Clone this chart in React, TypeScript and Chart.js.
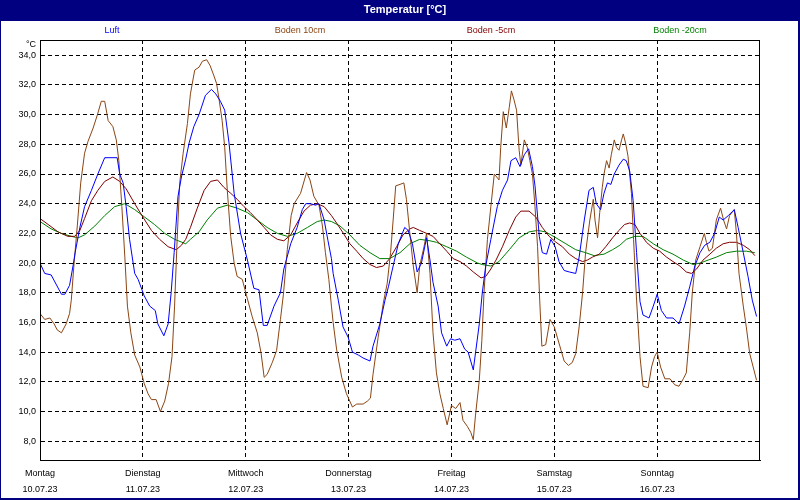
import React, { useEffect, useRef } from "react";
import { Chart, registerables } from "chart.js";

Chart.register(...registerables);

const chartTitle = "Temperatur [°C]";
const unitLabel = "°C";
const seriesNames = ["Luft", "Boden 10cm", "Boden -5cm", "Boden -20cm"];
const seriesColors = ["#0000ff", "#8b4513", "#800000", "#008000"];
const dayNames = ["Montag", "Dienstag", "Mittwoch", "Donnerstag", "Freitag", "Samstag", "Sonntag"];
const dayDates = ["10.07.23", "11.07.23", "12.07.23", "13.07.23", "14.07.23", "15.07.23", "16.07.23"];
const dayTickHours = [0, 24, 48, 72, 96, 120, 144];
const yTickValues = [8, 10, 12, 14, 16, 18, 20, 22, 24, 26, 28, 30, 32, 34];

// Luft (hours since Monday 00:00, °C)
const luftHours = [0, 1.1, 2.6, 5.0, 5.8, 6.9, 7.7, 8.2, 9.3, 10.4, 12.0, 13.5, 15.1, 18.0, 18.6, 19.4, 20.1, 20.9, 22.1, 22.9, 24.3, 25.6, 26.9, 27.5, 28.9, 29.9, 30.6, 31.3, 32.2, 33.0, 34.0, 34.8, 35.9, 37.1, 38.6, 40.0, 41.0, 42.1, 43.1, 44.1, 45.3, 46.8, 48.4, 49.9, 51.1, 52.1, 53.0, 54.6, 56.1, 56.9, 58.5, 60.0, 61.2, 62.0, 63.1, 64.3, 65.1, 66.3, 67.2, 68.0, 68.4, 69.6, 70.7, 71.9, 72.9, 74.3, 75.4, 77.0, 77.7, 79.3, 80.5, 81.3, 82.4, 83.6, 85.1, 85.9, 86.9, 88.0, 89.0, 90.2, 91.0, 91.7, 92.9, 93.7, 94.9, 95.8, 96.8, 98.0, 99.1, 99.9, 101.1, 102.5, 103.2, 104.0, 105.2, 106.7, 107.9, 109.1, 109.9, 111.0, 112.0, 113.0, 114.0, 114.9, 115.5, 116.5, 117.2, 118.2, 119.2, 120.2, 121.1, 122.3, 123.5, 125.0, 125.8, 127.0, 128.1, 129.1, 129.8, 130.8, 131.6, 132.4, 133.2, 134.0, 135.1, 136.1, 136.8, 137.6, 138.4, 139.2, 140.0, 140.7, 142.1, 143.1, 144.0, 145.0, 146.2, 147.7, 149.1, 150.4, 151.6, 152.8, 154.0, 155.1, 156.3, 157.4, 158.5, 159.4, 160.6, 162.0, 162.9, 164.1, 165.2, 166.2, 167.2];
const luftValues = [20.0, 19.3, 19.2, 17.9, 17.9, 18.5, 19.8, 20.7, 22.4, 23.8, 24.9, 26.0, 27.1, 27.1, 26.0, 25.4, 23.8, 21.6, 19.3, 18.9, 17.8, 17.1, 16.8, 15.9, 15.1, 15.9, 18.0, 20.7, 24.5, 25.8, 27.0, 28.1, 29.2, 30.0, 31.3, 31.7, 31.4, 30.9, 30.3, 28.1, 24.7, 22.0, 20.2, 18.3, 18.2, 15.8, 15.8, 17.1, 18.0, 19.6, 21.3, 22.4, 23.6, 24.0, 24.0, 23.9, 24.0, 22.9, 21.5, 20.3, 19.3, 17.5, 15.7, 15.0, 14.0, 13.8, 13.6, 13.4, 14.4, 15.9, 17.5, 18.4, 19.8, 21.3, 22.4, 22.2, 21.3, 19.4, 20.0, 21.7, 20.2, 18.7, 17.1, 15.3, 14.4, 14.9, 14.8, 14.9, 14.2, 14.0, 12.8, 15.9, 18.0, 19.8, 21.6, 23.8, 24.9, 25.6, 26.9, 27.1, 26.5, 27.3, 27.7, 26.5, 25.2, 21.8, 20.7, 20.6, 21.6, 21.1, 20.1, 19.5, 19.4, 19.3, 20.4, 22.9, 24.9, 25.1, 24.0, 23.6, 24.7, 25.4, 25.3, 26.0, 26.6, 27.0, 26.9, 26.2, 24.2, 20.7, 17.4, 16.5, 16.3, 17.1, 17.9, 16.8, 16.3, 16.3, 15.9, 17.1, 18.4, 19.8, 20.7, 21.2, 21.4, 22.0, 23.1, 22.9, 23.2, 23.6, 22.4, 20.7, 19.1, 17.5, 16.4];

// Boden 10cm
const boden10Hours = [0, 1.1, 2.3, 3.3, 4.0, 5.0, 6.1, 6.9, 7.3, 7.9, 8.7, 9.5, 10.4, 11.2, 12.4, 13.4, 14.3, 15.1, 15.9, 17.0, 17.8, 18.4, 19.1, 19.8, 20.4, 21.2, 22.1, 23.3, 24.3, 25.2, 26.0, 27.1, 28.1, 29.1, 30.0, 30.8, 31.4, 32.0, 32.6, 33.4, 34.4, 35.1, 36.1, 37.1, 37.9, 38.9, 39.7, 40.6, 41.2, 41.8, 42.5, 43.1, 43.7, 44.5, 45.3, 46.0, 47.2, 48.2, 49.5, 50.7, 51.6, 52.3, 53.0, 54.2, 55.2, 56.1, 56.8, 57.7, 58.6, 59.3, 60.8, 61.7, 62.2, 63.0, 63.9, 65.1, 65.9, 66.6, 67.4, 68.0, 68.4, 69.2, 70.4, 71.5, 72.9, 73.9, 75.4, 76.4, 77.1, 77.7, 78.9, 80.1, 81.0, 81.8, 82.4, 83.0, 84.0, 84.9, 85.5, 86.3, 87.1, 88.0, 88.6, 89.6, 90.2, 91.0, 91.7, 92.5, 93.3, 94.1, 95.0, 96.0, 97.0, 98.0, 98.7, 99.7, 100.5, 101.1, 101.6, 102.5, 103.1, 103.6, 104.4, 105.2, 106.0, 107.1, 107.5, 108.1, 108.8, 109.5, 110.0, 110.6, 111.2, 111.8, 112.2, 113.0, 113.7, 114.3, 114.9, 115.5, 116.1, 116.6, 117.1, 118.0, 119.0, 120.0, 120.7, 121.5, 122.3, 123.3, 124.2, 125.0, 125.8, 126.6, 127.3, 128.3, 129.1, 129.5, 130.1, 130.6, 131.2, 131.6, 132.2, 132.8, 133.3, 134.0, 134.5, 135.1, 135.7, 136.1, 136.7, 137.2, 138.0, 138.5, 139.2, 140.0, 140.7, 141.9, 142.7, 143.4, 144.0, 144.8, 145.8, 147.0, 148.1, 149.1, 150.1, 150.8, 151.6, 152.2, 153.0, 154.0, 155.0, 155.5, 156.1, 156.9, 157.8, 158.8, 159.5, 160.2, 160.9, 162.0, 162.5, 163.1, 164.1, 164.8, 165.6, 166.4, 167.2];
const boden10Values = [16.6, 16.2, 16.3, 15.9, 15.5, 15.3, 15.9, 16.6, 17.5, 19.8, 22.5, 25.4, 27.4, 28.2, 29.1, 30.0, 30.9, 30.9, 29.6, 29.2, 28.3, 26.9, 23.8, 20.4, 17.1, 15.3, 13.8, 13.0, 11.9, 11.2, 10.8, 10.8, 10.0, 10.7, 11.9, 13.7, 17.1, 21.6, 25.4, 27.4, 29.4, 31.4, 33.0, 33.2, 33.6, 33.7, 33.3, 32.6, 32.1, 31.0, 29.6, 27.8, 24.9, 21.8, 20.0, 19.1, 18.9, 17.8, 16.4, 15.3, 13.9, 12.3, 12.5, 13.3, 14.1, 16.2, 17.9, 20.9, 23.2, 24.0, 24.7, 25.6, 26.1, 25.6, 24.5, 23.9, 22.5, 20.7, 18.9, 17.1, 16.0, 14.2, 12.3, 11.2, 10.3, 10.5, 10.5, 10.7, 10.9, 12.5, 15.0, 17.3, 18.6, 20.7, 22.9, 25.2, 25.3, 25.4, 24.3, 22.0, 19.8, 18.0, 19.8, 21.1, 22.0, 19.3, 15.3, 12.6, 11.2, 10.2, 9.1, 10.4, 10.2, 10.6, 9.4, 9.0, 8.6, 8.1, 9.7, 12.1, 14.8, 18.0, 21.6, 23.8, 26.0, 25.6, 27.8, 30.2, 29.1, 30.5, 31.6, 31.0, 30.3, 27.6, 26.6, 28.3, 27.8, 26.9, 26.0, 23.8, 21.1, 17.5, 14.4, 14.5, 16.2, 15.7, 15.0, 14.2, 13.4, 13.1, 13.3, 13.9, 15.7, 18.0, 20.7, 22.9, 24.3, 22.9, 21.7, 23.4, 25.1, 26.0, 26.9, 26.4, 27.3, 28.3, 27.8, 27.6, 28.3, 28.7, 28.0, 27.2, 24.7, 21.6, 17.5, 13.7, 11.7, 11.6, 13.0, 13.7, 14.0, 13.0, 12.2, 12.2, 11.8, 11.7, 12.2, 12.6, 15.3, 18.0, 20.2, 21.1, 22.0, 21.4, 20.8, 21.0, 22.9, 23.7, 22.9, 22.3, 23.2, 23.6, 22.0, 19.3, 17.1, 15.7, 13.9, 13.0, 12.1];

// Boden -5cm
const boden5Hours = [0, 1.9, 4.2, 6.5, 8.1, 9.3, 10.4, 12.0, 13.5, 15.1, 17.0, 18.6, 20.1, 22.1, 24.0, 26.0, 27.9, 29.9, 31.8, 33.0, 34.0, 35.1, 36.7, 38.3, 39.8, 41.4, 42.9, 44.5, 46.0, 47.6, 49.1, 50.7, 52.3, 53.8, 55.4, 56.9, 58.5, 60.0, 61.6, 63.1, 64.7, 66.3, 68.0, 69.2, 70.8, 72.3, 73.9, 75.4, 77.0, 78.5, 80.1, 81.6, 83.2, 84.7, 86.3, 87.1, 88.6, 90.2, 91.7, 93.3, 94.9, 96.4, 98.0, 99.5, 101.1, 102.9, 104.0, 105.2, 106.4, 107.9, 109.5, 111.0, 112.2, 114.1, 115.7, 117.2, 118.8, 120.4, 121.9, 123.5, 125.0, 126.6, 127.7, 128.9, 130.5, 132.0, 133.6, 135.1, 136.4, 137.6, 138.8, 140.0, 141.5, 143.1, 144.6, 146.2, 147.7, 149.3, 150.8, 152.0, 153.2, 154.7, 156.3, 157.8, 159.4, 160.9, 162.5, 164.1, 165.6, 166.8];
const boden5Values = [23.0, 22.6, 22.1, 21.8, 21.8, 22.2, 23.0, 24.2, 24.9, 25.5, 25.8, 25.5, 25.0, 24.0, 23.1, 22.2, 21.6, 21.1, 20.9, 21.2, 21.6, 22.4, 23.7, 24.9, 25.5, 25.6, 25.1, 24.7, 24.3, 23.8, 23.4, 22.9, 22.4, 21.9, 21.6, 21.5, 21.9, 22.7, 23.5, 23.9, 24.0, 23.8, 23.2, 22.7, 22.0, 21.3, 20.8, 20.3, 19.9, 19.7, 19.8, 20.3, 21.1, 21.9, 22.3, 22.4, 22.2, 22.0, 21.8, 21.3, 20.8, 20.3, 20.1, 19.8, 19.4, 19.0, 19.1, 19.6, 20.2, 21.1, 22.2, 23.1, 23.5, 23.5, 23.1, 22.4, 21.8, 21.4, 21.1, 20.6, 20.3, 20.1, 20.2, 20.4, 20.6, 21.1, 21.7, 22.2, 22.6, 22.7, 22.6, 22.0, 21.4, 21.0, 20.8, 20.4, 20.1, 19.8, 19.4, 19.3, 19.6, 20.2, 20.6, 21.0, 21.3, 21.4, 21.4, 21.2, 20.9, 20.5];

// Boden -20cm
const boden20Hours = [0, 2.6, 5.0, 7.3, 8.9, 10.4, 12.8, 15.1, 17.4, 19.8, 22.1, 24.4, 26.7, 29.1, 31.4, 34.0, 35.1, 37.1, 39.0, 41.4, 43.7, 46.0, 48.4, 50.7, 53.0, 55.4, 57.7, 60.0, 62.4, 64.7, 66.3, 68.0, 70.0, 72.3, 74.6, 77.0, 79.3, 81.6, 84.0, 86.3, 88.6, 91.0, 92.5, 94.9, 97.2, 99.5, 102.1, 103.2, 105.2, 107.1, 109.5, 111.8, 114.1, 116.1, 118.0, 120.4, 122.7, 125.0, 127.3, 129.3, 131.6, 133.6, 135.3, 136.8, 138.8, 140.7, 143.1, 145.4, 147.7, 150.1, 152.4, 154.0, 155.9, 157.8, 160.2, 162.5, 164.8, 166.8];
const boden20Values = [22.8, 22.3, 22.0, 21.8, 21.7, 21.9, 22.5, 23.2, 23.8, 24.0, 23.6, 23.1, 22.6, 22.0, 21.6, 21.3, 21.6, 22.1, 22.9, 23.7, 23.9, 23.7, 23.4, 22.9, 22.4, 22.0, 21.8, 22.0, 22.4, 22.8, 22.9, 22.8, 22.5, 21.9, 21.2, 20.7, 20.3, 20.3, 20.7, 21.3, 21.6, 21.5, 21.4, 21.1, 20.8, 20.4, 20.0, 19.9, 19.8, 20.1, 20.9, 21.7, 22.1, 22.2, 22.1, 21.7, 21.3, 20.9, 20.7, 20.5, 20.6, 20.9, 21.2, 21.6, 21.8, 21.8, 21.3, 20.9, 20.6, 20.2, 19.9, 20.0, 20.2, 20.4, 20.7, 20.8, 20.8, 20.7];

const seriesHours = [luftHours, boden10Hours, boden5Hours, boden20Hours];
const seriesValues = [luftValues, boden10Values, boden5Values, boden20Values];

const FONT = "'Liberation Sans', Arial, sans-serif";

const framePlugin = {
  id: "frame",
  beforeDraw(chart: any) {
    const ctx = chart.ctx;
    const w = chart.width;
    const h = chart.height;
    ctx.save();
    ctx.fillStyle = "#000080";
    ctx.fillRect(0, 0, w, h);
    ctx.fillStyle = "#ffffff";
    ctx.fillRect(1, 21, w - 3, h - 23);
    ctx.fillStyle = "#ffffff";
    ctx.font = `bold 11px ${FONT}`;
    ctx.textAlign = "center";
    ctx.textBaseline = "middle";
    ctx.fillText(chartTitle, 405, 10);
    ctx.restore();
  },
  afterDraw(chart: any) {
    const ctx = chart.ctx;
    const a = chart.chartArea;
    ctx.save();
    ctx.strokeStyle = "#000000";
    ctx.lineWidth = 1;
    ctx.setLineDash([]);
    ctx.strokeRect(Math.round(a.left) + 0.5, Math.round(a.top) + 0.5, Math.round(a.right - a.left) - 1, Math.round(a.bottom - a.top));
    ctx.font = `9px ${FONT}`;
    ctx.textBaseline = "middle";
    ctx.textAlign = "center";
    const legendX = [112, 300, 491, 680];
    seriesNames.forEach((n, i) => {
      ctx.fillStyle = seriesColors[i];
      ctx.fillText(n, legendX[i], 31);
    });
    ctx.fillStyle = "#000000";
    ctx.textAlign = "right";
    ctx.fillText(unitLabel, 36, 45);
    ctx.restore();
  },
};

export default function App() {
  const ref = useRef<HTMLCanvasElement | null>(null);
  useEffect(() => {
    document.body.style.margin = "0";
    const canvas = ref.current;
    if (!canvas) return;
    const datasets = seriesNames.map((name, i) => ({
      label: name,
      data: seriesHours[i].map((hr, j) => ({ x: hr, y: seriesValues[i][j] })),
      borderColor: seriesColors[i],
      backgroundColor: seriesColors[i],
      borderWidth: 1,
      pointRadius: 0,
      tension: 0,
      fill: false,
    }));
    const chart = new Chart(canvas, {
      type: "line",
      data: { datasets },
      options: {
        animation: false,
        responsive: false,
        devicePixelRatio: 1,
        events: [],
        layout: { padding: { top: 40, right: 40, left: 0, bottom: 0 } },
        plugins: { legend: { display: false }, tooltip: { enabled: false }, title: { display: false } },
        scales: {
          x: {
            type: "linear",
            min: 0,
            max: 168,
            afterFit: (s: any) => {
              s.height = 40;
            },
            afterBuildTicks: (s: any) => {
              s.ticks = dayTickHours.map((v) => ({ value: v }));
            },
            ticks: {
              autoSkip: false,
              maxRotation: 0,
              minRotation: 0,
              padding: 6,
              color: "#000000",
              font: { family: FONT, size: 9, lineHeight: "16px" },
              callback: (v: any) => {
                const i = dayTickHours.indexOf(Number(v));
                return i >= 0 ? [dayNames[i], dayDates[i]] : "";
              },
            },
            grid: { color: "#000000", lineWidth: 1, drawTicks: false },
            border: { display: true, color: "#000000", width: 1, dash: [4, 3] },
          },
          y: {
            type: "linear",
            min: 6.73,
            max: 35.03,
            afterFit: (s: any) => {
              s.width = 40;
            },
            afterBuildTicks: (s: any) => {
              s.ticks = yTickValues.map((v) => ({ value: v }));
            },
            ticks: {
              padding: 4,
              color: "#000000",
              font: { family: FONT, size: 9 },
              callback: (v: any) => Number(v).toFixed(1).replace(".", ","),
            },
            grid: { color: "#000000", lineWidth: 1, drawTicks: false },
            border: { display: true, color: "#000000", width: 1, dash: [4, 3] },
          },
        },
      },
      plugins: [framePlugin],
    });
    return () => chart.destroy();
  }, []);
  return <canvas ref={ref} width={800} height={500} style={{ display: "block", width: 800, height: 500 }} />;
}
